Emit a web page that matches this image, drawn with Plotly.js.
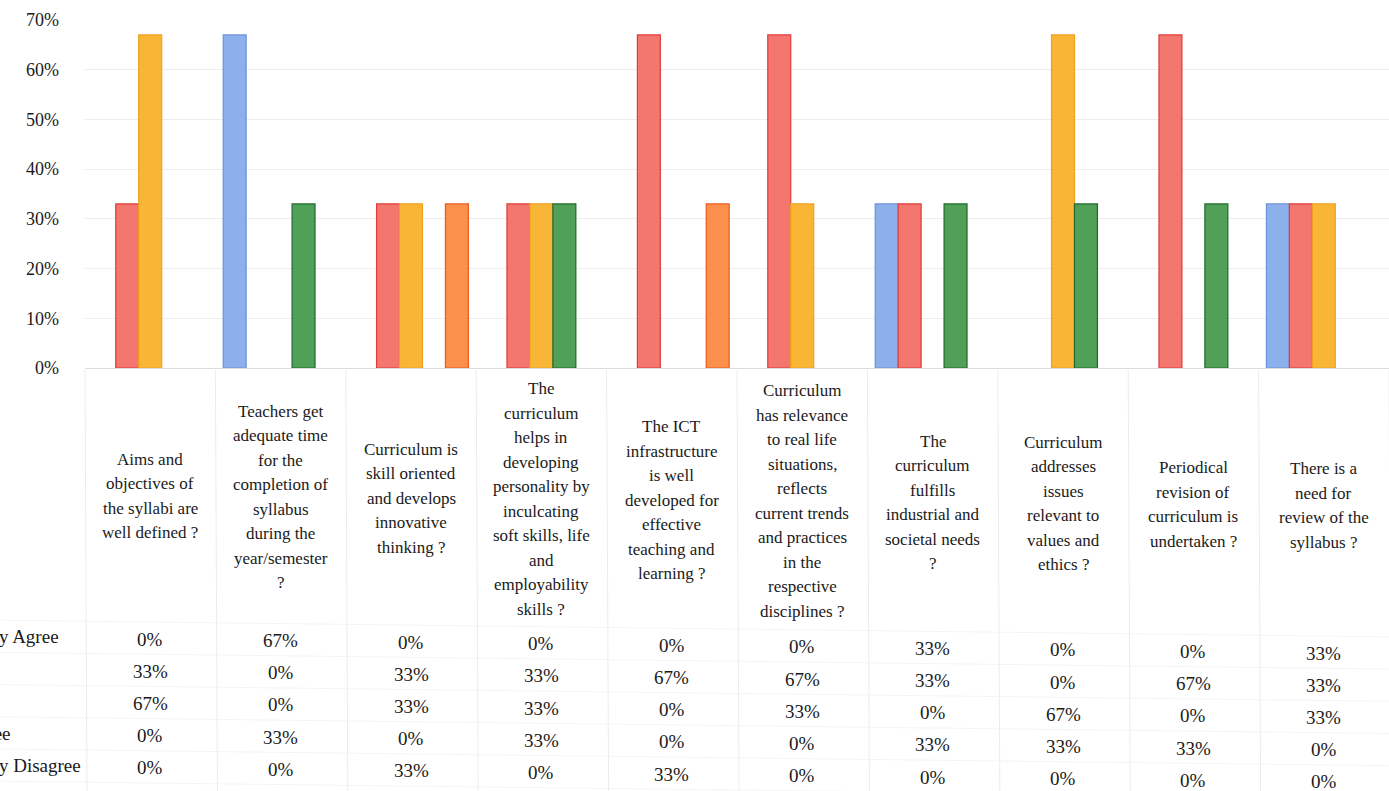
<!DOCTYPE html>
<html>
<head>
<meta charset="utf-8">
<script src="https://cdn.plot.ly/plotly-3.0.1.min.js"></script>
<style>
html,body{margin:0;padding:0;background:#fff;}
#chart{width:1389px;height:791px;}
</style>
</head>
<body>
<div id="chart"></div>
<script>
// ---- data ----
const categories = [
  "Aims and<br>objectives of<br>the syllabi are<br>well defined ?",
  "Teachers get<br>adequate time<br>for the<br>completion of<br>syllabus<br>during the<br>year/semester<br>?",
  "Curriculum is<br>skill oriented<br>and develops<br>innovative<br>thinking ?",
  "The<br>curriculum<br>helps in<br>developing<br>personality by<br>inculcating<br>soft skills, life<br>and<br>employability<br>skills ?",
  "The ICT<br>infrastructure<br>is well<br>developed for<br>effective<br>teaching and<br>learning ?",
  "Curriculum<br>has relevance<br>to real life<br>situations,<br>reflects<br>current trends<br>and practices<br>in the<br>respective<br>disciplines ?",
  "The<br>curriculum<br>fulfills<br>industrial and<br>societal needs<br>?",
  "Curriculum<br>addresses<br>issues<br>relevant to<br>values and<br>ethics ?",
  "Periodical<br>revision of<br>curriculum is<br>undertaken ?",
  "There is a<br>need for<br>review of the<br>syllabus ?"
];
const seriesNames = ["Strongly Agree", "Agree", "Neutral", "Disagree", "Strongly Disagree"];
const stronglyAgree    = [0, 67, 0, 0, 0, 0, 33, 0, 0, 33];
const agree            = [33, 0, 33, 33, 67, 67, 33, 0, 67, 33];
const neutral          = [67, 0, 33, 33, 0, 33, 0, 67, 0, 33];
const disagree         = [0, 33, 0, 33, 0, 0, 33, 33, 33, 0];
const stronglyDisagree = [0, 0, 33, 0, 33, 0, 0, 0, 0, 0];
const yTickValues = [0, 10, 20, 30, 40, 50, 60, 70];

// ---- styles ----
const seriesData = [stronglyAgree, agree, neutral, disagree, stronglyDisagree];
const fills = ["#8cb0eb", "#f3766f", "#f9b636", "#50a058", "#fb8f4c"];
const edges = ["#6d93da", "#df3b38", "#f0a11c", "#1f6a2b", "#ee5a1c"];
const serif = "Liberation Serif";
const txt = "#1a1a1a";

const L = 85, T = 20, PW = 1304, PH = 348, BASE = T + PH;
const px2x = x => (x - L) / PW;
const px2y = y => (BASE - y) / PH;
const colW = PW / categories.length;

const traces = seriesData.map((vals, s) => ({
  type: "bar",
  name: seriesNames[s],
  x: categories,
  y: vals.map(v => (v === 0 ? null : v)),
  marker: {color: fills[s], line: {color: edges[s], width: 1.2}},
  hoverinfo: "skip"
}));

const annotations = [];
const shapes = [];

// category header labels, one annotation per line
categories.forEach((c, i) => {
  const cx = L + colW * (i + 0.5);
  const lines = c.split("<br>");
  const cy = 496 + 0.008 * (cx - 150);
  lines.forEach((ln, j) => {
    const y = cy + (j - (lines.length - 1) / 2) * 24.5;
    annotations.push({
      xref: "paper", yref: "paper", x: px2x(cx), y: px2y(y),
      xanchor: "center", yanchor: "middle", showarrow: false,
      text: ln, font: {family: serif, size: 17, color: txt}
    });
  });
});

// data table values
seriesData.forEach((vals, s) => {
  vals.forEach((v, i) => {
    const cx = L + colW * (i + 0.5);
    const y = 639 + 32.2 * s + 0.012 * (cx - 150);
    annotations.push({
      xref: "paper", yref: "paper", x: px2x(cx), y: px2y(y),
      xanchor: "center", yanchor: "middle", showarrow: false,
      text: v + "%", font: {family: serif, size: 19, color: txt}
    });
  });
  // row label (cut off at page edge, as in the scanned source)
  const lx = -59;
  annotations.push({
    xref: "paper", yref: "paper", x: px2x(lx), y: px2y(639 + 32.2 * s + 0.012 * (lx - 150)),
    xanchor: "left", yanchor: "middle", showarrow: false,
    text: seriesNames[s], font: {family: serif, size: 19, color: txt}
  });
});

// faint table grid
for (let k = 0; k <= categories.length; k++) {
  const x = L + colW * k;
  shapes.push({type: "line", xref: "paper", yref: "paper",
    x0: px2x(x), x1: px2x(x + 2), y0: px2y(370), y1: px2y(791),
    line: {color: "#ececec", width: 1}});
}
for (let r = 0; r <= 5; r++) {
  const ya = 622 + 32.2 * r + 0.012 * (0 - 150);
  const yb = 622 + 32.2 * r + 0.012 * (L + PW - 150);
  shapes.push({type: "line", xref: "paper", yref: "paper",
    x0: px2x(0), x1: px2x(L + PW), y0: px2y(ya), y1: px2y(yb),
    line: {color: "#f4f4f4", width: 1}});
}

const layout = {
  width: 1389, height: 791,
  margin: {l: L, r: 1389 - L - PW, t: T, b: 791 - BASE, pad: 0},
  paper_bgcolor: "#ffffff", plot_bgcolor: "#ffffff",
  barmode: "group", bargap: 0.12, bargroupgap: 0,
  showlegend: false,
  font: {family: serif, color: txt},
  xaxis: {
    type: "category", showticklabels: false, ticks: "",
    showgrid: false, zeroline: false,
    showline: true, linecolor: "#dddddd", linewidth: 1
  },
  yaxis: {
    range: [0, 70], tickvals: yTickValues, ticktext: yTickValues.map(v => v + "%"),
    showgrid: true, gridcolor: "#ededed", gridwidth: 1,
    zeroline: false, showline: false, ticks: "",
    ticklabelstandoff: 25,
    tickfont: {family: serif, size: 18, color: txt}
  },
  annotations: annotations,
  shapes: shapes
};

Plotly.newPlot("chart", traces, layout, {displayModeBar: false, staticPlot: true});
</script>
</body>
</html>
